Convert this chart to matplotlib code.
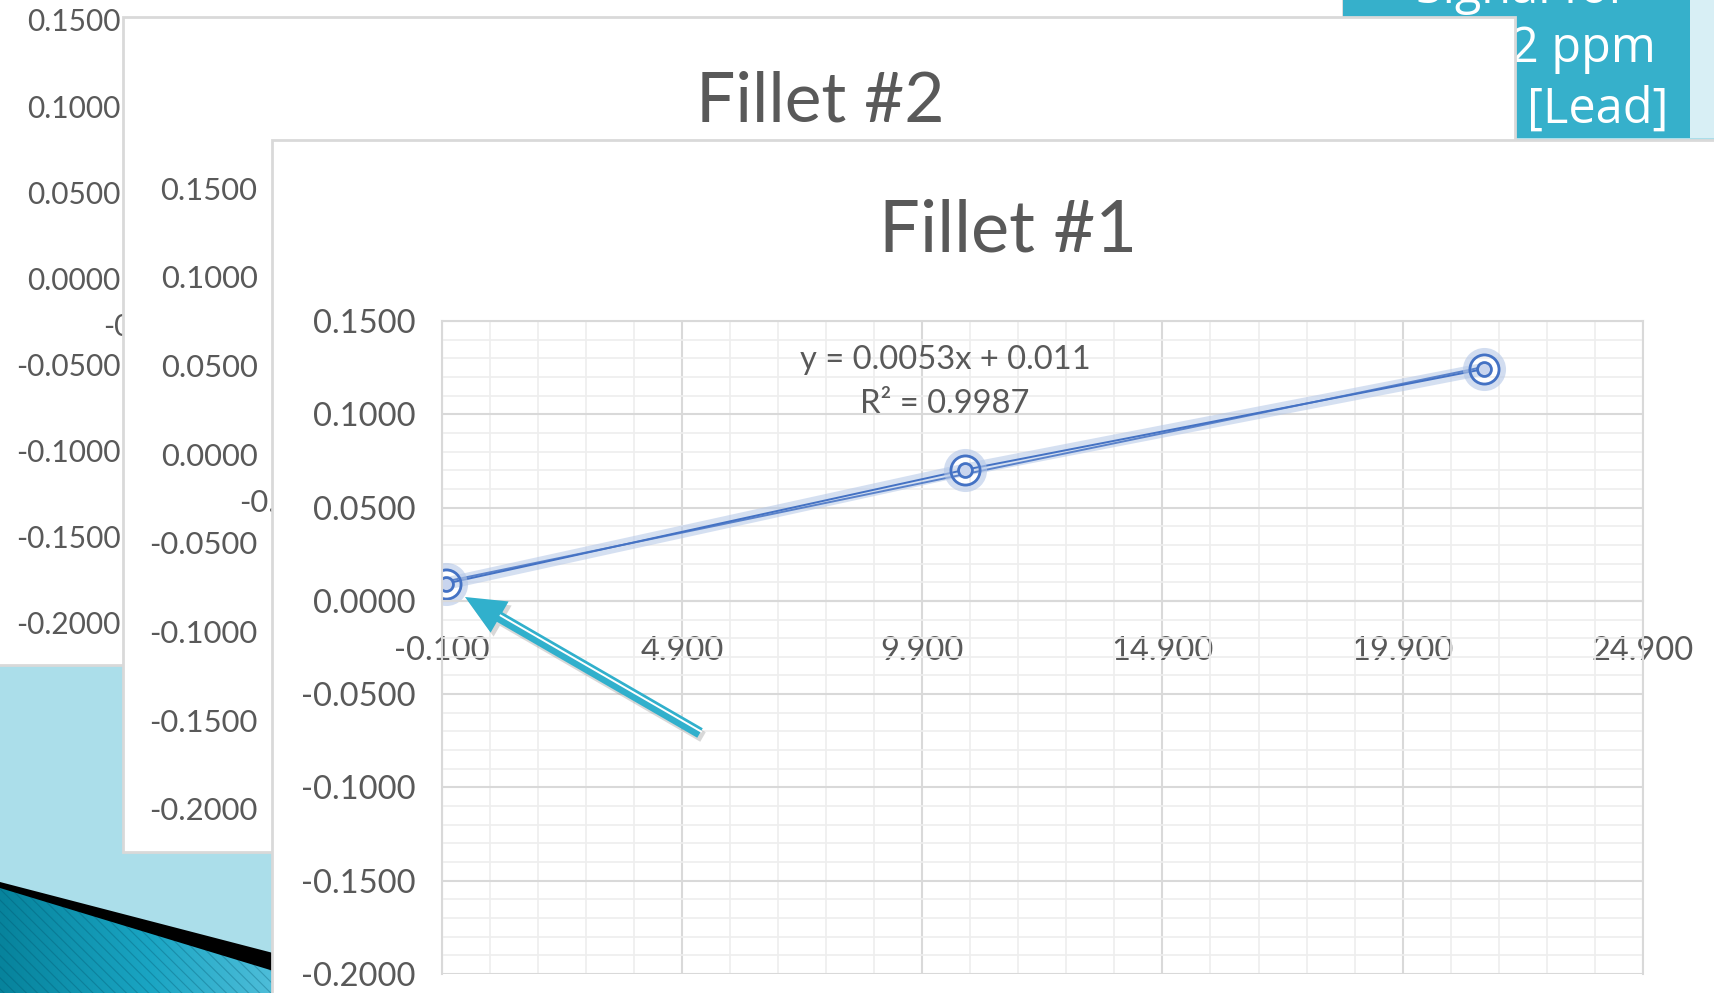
import numpy as np
import matplotlib
matplotlib.use("Agg")
import matplotlib.pyplot as plt
from matplotlib.patches import Rectangle, Polygon, FancyArrow
from matplotlib.colors import LinearSegmentedColormap
from matplotlib.ticker import MultipleLocator, FormatStrFormatter

# values (Fillet #1 calibration points)
lead_ppm = [0.0, 10.8, 21.6]
signal = [0.0093, 0.0703, 0.1243]
y_ticks = [-0.2, -0.15, -0.1, -0.05, 0.0, 0.05, 0.1, 0.15]
x_ticks = [-0.1, 4.9, 9.9, 14.9, 19.9, 24.9]
eq_text = "y = 0.0053x + 0.011"
r2_text = "R\u00b2 = 0.9987"

W, H = 1714, 993
plt.rcParams["font.family"] = ["Lato", "DejaVu Sans"]
plt.rcParams["axes.unicode_minus"] = False
plt.rcParams["hatch.linewidth"] = 0.8
grey_txt = "#595959"
grid_major = "#d9d9d9"
grid_minor = "#eeeeee"
box_edge = "#d9d9d9"

fig = plt.figure(figsize=(W / 100, H / 100), dpi=100)
fig.patch.set_facecolor("#abdeea")


def layer(z):
    # full-figure overlay in pixel coords (y down)
    ax = fig.add_axes([0, 0, 1, 1], zorder=z, label="layer%s" % z)
    ax.set_xlim(0, W)
    ax.set_ylim(H, 0)
    ax.axis("off")
    return ax


def plot_axes(left, top, right, bottom, z, fs):
    ax = fig.add_axes([left / W, 1 - bottom / H, (right - left) / W, (bottom - top) / H],
                      zorder=z, label="plot%s" % z)
    ax.set_xlim(-0.1, 24.9)
    ax.set_ylim(-0.2, 0.15)
    ax.set_yticks(y_ticks)
    ax.set_xticks(x_ticks)
    ax.yaxis.set_major_formatter(FormatStrFormatter("%.4f"))
    ax.xaxis.set_major_formatter(FormatStrFormatter("%.3f"))
    ax.tick_params(which="both", length=0, labelsize=fs, labelcolor=grey_txt)
    ax.tick_params(axis="y", pad=19)
    ax.tick_params(axis="x", pad=25)
    ax.spines["bottom"].set_position(("data", 0))
    for s in ax.spines.values():
        s.set_color(grid_major)
        s.set_linewidth(1.5)
    ax.patch.set_alpha(0)
    return ax


# slide background decoration, bottom left
bg = layer(0)
teal_poly = [(0, 887), (300, 978), (300, 1000), (0, 1000)]
black_poly = [(0, 882), (300, 960), (300, 979), (0, 888)]
cmap = LinearSegmentedColormap.from_list("teal", ["#07839c", "#1aa5c3", "#5ac3de"])
img = bg.imshow(np.linspace(0, 1, 256)[None, :], extent=(0, 300, 1000, 870),
                cmap=cmap, aspect="auto")
clip = Polygon(teal_poly, closed=True, facecolor="none", edgecolor="none")
bg.add_patch(clip)
img.set_clip_path(clip)
bg.add_patch(Polygon(teal_poly, closed=True, fill=False, hatch="\\\\\\",
                     edgecolor=(0.0, 0.3, 0.4, 0.3), lw=0))
bg.add_patch(Polygon(black_poly, closed=True, color="black", lw=0))

# chart 3 (furthest back)
l1 = layer(1)
l1.add_patch(Rectangle((-5, -5), 1348, 670, facecolor="white", edgecolor=box_edge, lw=2))
ax3 = plot_axes(147, 20, 1300, 623, 1.5, 21.5)

# teal text box top right
l2 = layer(2)
l2.add_patch(Rectangle((1343, -5), 347, 143, facecolor="#36b0cb", edgecolor="none"))
l2.add_patch(Rectangle((1690, -5), 30, 143, facecolor="#d8eff5", edgecolor="none"))
box_font = dict(color="white", fontsize=35, family=["Open Sans", "DejaVu Sans"], va="baseline")
l2.text(1629, 3, "Signal for", ha="right", **box_font)
l2.text(1656, 62, "2 ppm", ha="right", **box_font)
l2.text(1668, 123, "[Lead]", ha="right", **box_font)

# chart 2
l3 = layer(3)
l3.add_patch(Rectangle((123, 17), 1392, 835, facecolor="white", edgecolor=box_edge, lw=2))
l3.text(820, 122, "Fillet #2", ha="center", va="baseline", fontsize=50,
        color=grey_txt)
ax2 = plot_axes(284, 188, 1450, 809, 3.5, 22.3)

# chart 1 (front)
l4 = layer(4)
l4.add_patch(Rectangle((272, 140), 1460, 870, facecolor="white", edgecolor=box_edge, lw=2))
l4.text(1008, 251, "Fillet #1", ha="center", va="baseline", fontsize=52,
        color=grey_txt)

ax1 = plot_axes(441.6, 321, 1643, 974, 4.5, 23.5)
ax1.xaxis.set_minor_locator(MultipleLocator(1, offset=-0.1))
ax1.yaxis.set_minor_locator(MultipleLocator(0.01))
ax1.grid(which="minor", color=grid_minor, lw=1.2)
ax1.grid(which="major", color=grid_major, lw=1.5)
ax1.set_axisbelow(True)

fit = np.polyfit(lead_ppm, signal, 1)
xx = np.array([min(lead_ppm), max(lead_ppm)])
ax1.plot(lead_ppm, signal, color="#b4c7e7", lw=9, alpha=0.55, solid_capstyle="round")
ax1.plot(lead_ppm, signal, color="#4472c4", lw=1.4)
ax1.plot(xx, np.polyval(fit, xx), color="#4472c4", lw=1.4, alpha=0.85)
ax1.plot(lead_ppm, signal, ls="none", marker="o", ms=25, mfc="none", mec="#b4c7e7",
         mew=6, alpha=0.6)
ax1.plot(lead_ppm, signal, ls="none", marker="o", ms=21, mfc="none", mec="#4472c4", mew=2)
ax1.plot(lead_ppm, signal, ls="none", marker="o", ms=10, mfc="#c9d5ee", mec="#4472c4", mew=2)

# overlay: trendline label and arrow
l5 = layer(5)
l5.text(945, 369, eq_text, ha="center", va="baseline", fontsize=23.5, color=grey_txt)
l5.text(945, 413, r2_text, ha="center", va="baseline", fontsize=23.5, color=grey_txt)

tail = np.array([700.0, 733.0])
tip = np.array([465.0, 597.0])
d = tip - tail
l5.add_patch(FancyArrow(tail[0] + 3, tail[1] + 4, d[0], d[1], width=11, head_width=36,
                        head_length=40, length_includes_head=True,
                        color="#7f7f7f", alpha=0.3, lw=0))
l5.add_patch(FancyArrow(tail[0], tail[1], d[0], d[1], width=11, head_width=36,
                        head_length=40, length_includes_head=True,
                        color="#31b0cc", lw=0))
u = -d / np.hypot(*d)
base = tip + 40 * u
l5.plot([tail[0] + 1, base[0] + 1], [tail[1] - 1.5, base[1] - 1.5], color="white", lw=1.4)

fig.savefig("out.png", dpi=100)
